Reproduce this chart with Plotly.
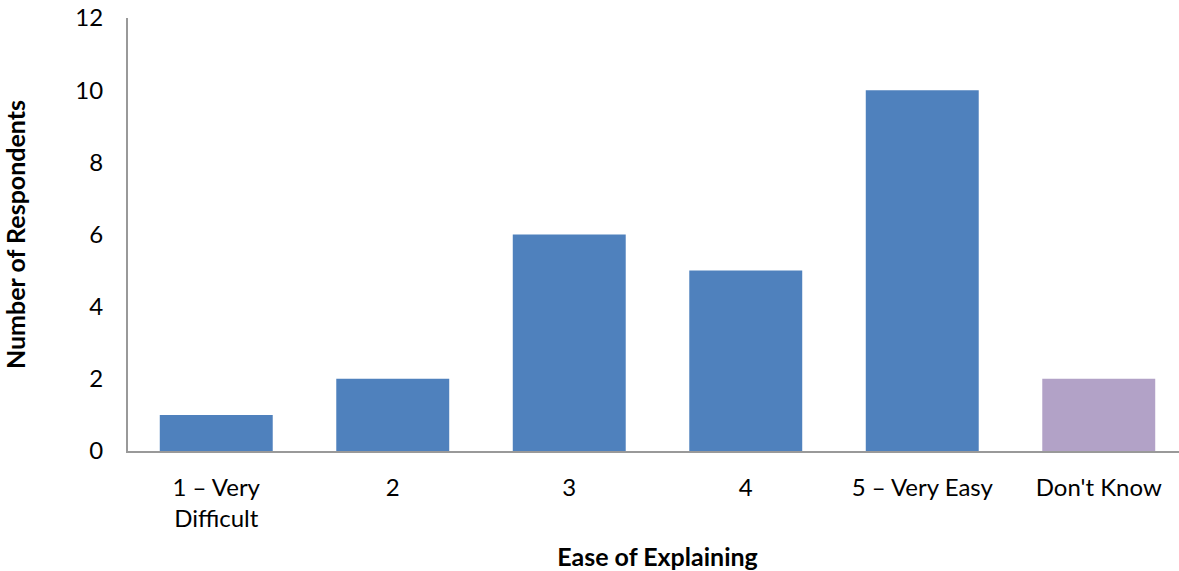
import plotly.graph_objects as go

categories = ["1 – Very<br>Difficult", "2", "3", "4", "5 – Very Easy", "Don't Know"]
values = [1, 2, 6, 5, 10, 2]
colors = ["#4F81BD", "#4F81BD", "#4F81BD", "#4F81BD", "#4F81BD", "#B2A2C7"]
y_ticks = [0, 2, 4, 6, 8, 10, 12]

FONT = "Lato, 'Open Sans', sans-serif"

fig = go.Figure(go.Bar(x=categories, y=values, marker=dict(color=colors, line=dict(width=0))))

fig.update_layout(
    width=1187, height=571,
    margin=dict(l=128, r=0, t=18, b=120),
    plot_bgcolor="white", paper_bgcolor="white",
    bargap=0.36,
    showlegend=False,
    font=dict(family=FONT, size=24, color="#000000"),
)
fig.update_xaxes(
    showline=True, linecolor="#999999", linewidth=2,
    showgrid=False, ticks="", ticklabelstandoff=14,
    tickfont=dict(size=24), automargin=False,
    title=dict(text="<b>Ease of Explaining</b>", font=dict(size=25), standoff=20),
)
fig.update_yaxes(
    range=[0, 12], tickvals=y_ticks,
    showline=True, linecolor="#999999", linewidth=2,
    showgrid=False, ticks="", ticklabelstandoff=18,
    ticklabeloverflow="allow",
    zeroline=False, automargin=False,
    tickfont=dict(size=24),
    title=dict(text="<b>Number of Respondents</b>", font=dict(size=25), standoff=49),
)

fig.write_html(
    "out.html",
    config={"displayModeBar": False},
    post_script="document.body.style.margin='0';document.body.style.overflow='hidden';",
)
